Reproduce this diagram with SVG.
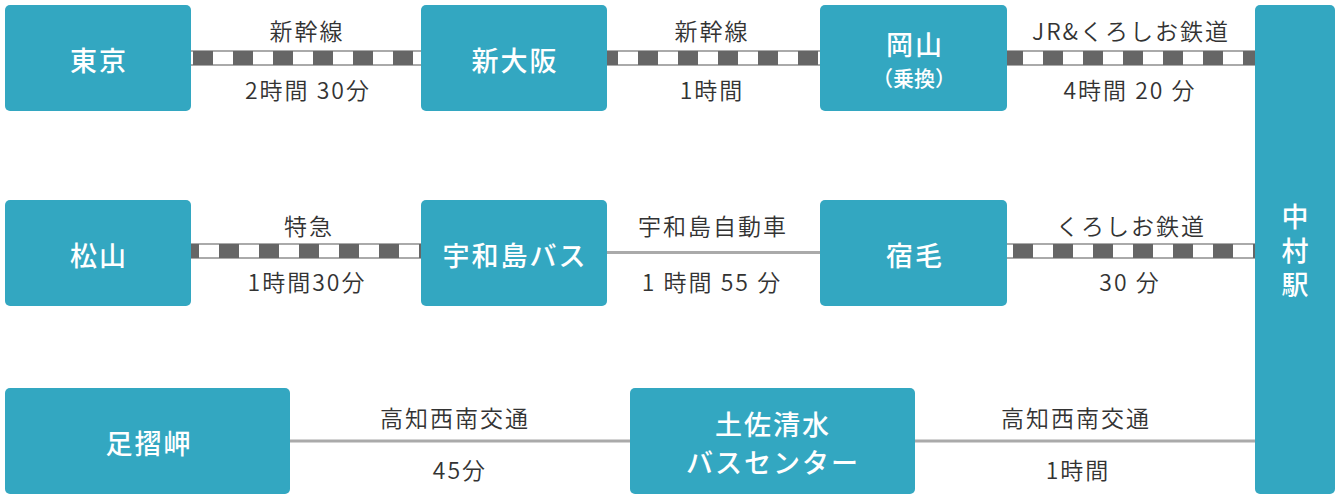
<svg xmlns="http://www.w3.org/2000/svg" width="1340" height="500" viewBox="0 0 1340 500">
<style>
.box{fill:#33a7c1}
.bt{font-family:"Noto Sans CJK JP","Noto Sans",sans-serif;font-size:27px;font-weight:500;fill:#fff;text-anchor:middle;dominant-baseline:central;letter-spacing:2px}
.bs{font-size:21px;letter-spacing:0;font-weight:500}
.vt{writing-mode:vertical-rl;letter-spacing:7px}
.lb{font-family:"Noto Sans CJK JP","Noto Sans",sans-serif;font-size:23px;font-weight:350;fill:#333;text-anchor:middle;dominant-baseline:central;letter-spacing:2px}
.line{stroke:#aaa;stroke-width:3;fill:none}
</style>
<defs>
<pattern id="rail" patternUnits="userSpaceOnUse" x="0" y="0" width="40" height="16">
<rect width="40" height="16" fill="#fff"/>
<rect y="0" width="40" height="2" fill="#aaa"/>
<rect y="14" width="40" height="2" fill="#aaa"/>
<rect x="0" y="1" width="20" height="14" fill="#666"/>
</pattern>
</defs>
<g id="connectors">
<g transform="translate(33,50)"><rect x="157" y="0" width="231" height="16" fill="url(#rail)"/></g>
<g transform="translate(38,50)"><rect x="568" y="0" width="214" height="16" fill="url(#rail)"/></g>
<g transform="translate(3,50)"><rect x="1004" y="0" width="248" height="16" fill="url(#rail)"/></g>
<g transform="translate(19,243)"><rect x="171" y="0" width="231" height="16" fill="url(#rail)"/></g>
<line class="line" x1="606" y1="252.5" x2="820" y2="252.5"/>
<g transform="translate(13,243)"><rect x="994" y="0" width="248" height="16" fill="url(#rail)"/></g>
<line class="line" x1="290" y1="441" x2="630" y2="441"/>
<line class="line" x1="915" y1="441" x2="1255" y2="441"/>
<text class="lb" x="307" y="30">新幹線</text>
<text class="lb" x="308" y="89">2時間 30分</text>
<text class="lb" x="712" y="30">新幹線</text>
<text class="lb" x="712" y="89">1時間</text>
<text class="lb" x="1131" y="30">JR&amp;くろしお鉄道</text>
<text class="lb" x="1130" y="89">4時間 20 分</text>
<text class="lb" x="309" y="225">特急</text>
<text class="lb" x="307" y="281">1時間30分</text>
<text class="lb" x="713" y="225">宇和島自動車</text>
<text class="lb" x="712" y="281">1 時間 55 分</text>
<text class="lb" x="1131" y="225">くろしお鉄道</text>
<text class="lb" x="1130" y="281">30 分</text>
<text class="lb" x="455" y="417">高知西南交通</text>
<text class="lb" x="460" y="469">45分</text>
<text class="lb" x="1076" y="417">高知西南交通</text>
<text class="lb" x="1078" y="469">1時間</text>
</g>
<g id="tokyo"><rect class="box" x="5" y="5" width="186" height="106" rx="5"/><text class="bt" x="99" y="59">東京</text></g>
<g id="shin-osaka"><rect class="box" x="421" y="5" width="186" height="106" rx="5"/><text class="bt" x="515" y="59">新大阪</text></g>
<g id="okayama"><rect class="box" x="820" y="5" width="187" height="106" rx="5"/><text class="bt" x="915" y="43">岡山</text><text class="bt bs" x="914" y="77">（乗換）</text></g>
<g id="nakamura"><rect class="box" x="1255" y="5" width="80" height="489" rx="5"/><text class="bt vt" x="1295" y="254">中村駅</text></g>
<g id="matsuyama"><rect class="box" x="5" y="200" width="186" height="106" rx="5"/><text class="bt" x="99" y="254">松山</text></g>
<g id="uwajima-bus"><rect class="box" x="421" y="200" width="186" height="106" rx="5"/><text class="bt" x="515" y="254">宇和島バス</text></g>
<g id="sukumo"><rect class="box" x="820" y="200" width="187" height="106" rx="5"/><text class="bt" x="915" y="254">宿毛</text></g>
<g id="ashizuri"><rect class="box" x="5" y="388" width="285" height="106" rx="5"/><text class="bt" x="149" y="442">足摺岬</text></g>
<g id="tosashimizu"><rect class="box" x="630" y="388" width="285" height="106" rx="5"/><text class="bt" x="773" y="423">土佐清水</text><text class="bt" x="773" y="461">バスセンター</text></g>
</svg>
